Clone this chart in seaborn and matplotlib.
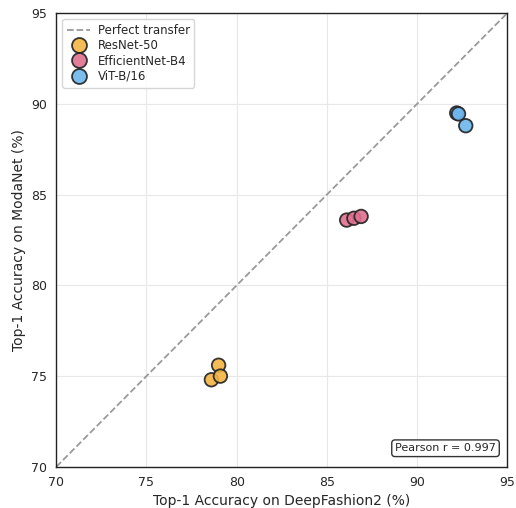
import matplotlib
matplotlib.use("Agg")
import matplotlib.pyplot as plt
import seaborn as sns
import pandas as pd

models = ["ResNet-50"] * 3 + ["EfficientNet-B4"] * 3 + ["ViT-B/16"] * 3
deepfashion2 = [78.6, 79.0, 79.1, 86.1, 86.5, 86.9, 92.2, 92.3, 92.7]
modanet = [74.8, 75.6, 75.0, 83.6, 83.7, 83.8, 89.5, 89.45, 88.8]
palette = {"ResNet-50": "#F2B544", "EfficientNet-B4": "#E0708F", "ViT-B/16": "#6DB6EC"}
pearson_r = 0.997

df = pd.DataFrame({"model": models, "df2": deepfashion2, "modanet": modanet})

sns.set_style("whitegrid")
plt.rcParams["font.family"] = ["DejaVu Sans"]

fig = plt.figure(figsize=(5.16, 5.08), dpi=100)
ax = fig.add_axes([0.109, 0.081, 0.874, 0.893])

ax.plot([70, 95], [70, 95], ls="--", color="#9a9a9a", lw=1.3, label="Perfect transfer", zorder=1)
sns.scatterplot(data=df, x="df2", y="modanet", hue="model", palette=palette,
                s=95, edgecolor="#222222", linewidth=1.3, alpha=0.9, ax=ax, zorder=3)

ax.set_xlim(70, 95)
ax.set_ylim(70, 95)
ax.set_xticks([70, 75, 80, 85, 90, 95])
ax.set_yticks([70, 75, 80, 85, 90, 95])
ax.set_xlabel("Top-1 Accuracy on DeepFashion2 (%)", fontsize=10)
ax.set_ylabel("Top-1 Accuracy on ModaNet (%)", fontsize=10)
ax.tick_params(axis="both", labelsize=9, length=3, color="#333333", direction="out")
ax.grid(color="#e8e8e8", lw=0.8)
for sp in ax.spines.values():
    sp.set_color("#222222")
    sp.set_linewidth(1.0)

leg = ax.legend(loc="upper left", fontsize=8.5, frameon=True, title=None,
                handletextpad=0.6, borderpad=0.4, labelspacing=0.2, markerscale=1.1)
leg.get_frame().set_edgecolor("#cccccc")

ax.text(0.975, 0.03, f"Pearson r = {pearson_r:.3f}", transform=ax.transAxes,
        ha="right", va="bottom", fontsize=8,
        bbox=dict(boxstyle="round,pad=0.3", fc="white", ec="#333333", lw=1.0))

fig.savefig("out.png", dpi=100)
